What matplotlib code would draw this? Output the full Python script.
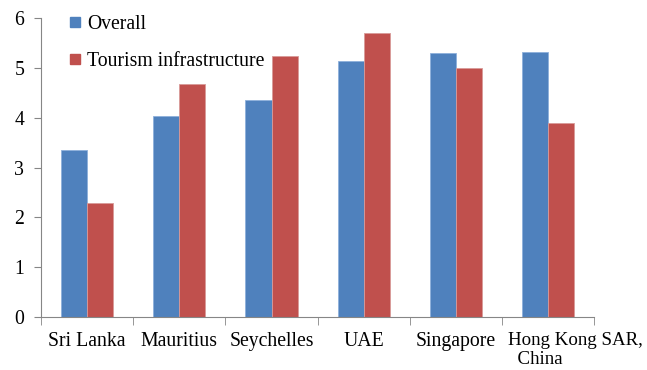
import numpy as np
import matplotlib.pyplot as plt
from matplotlib.lines import Line2D

plt.rcParams['font.family'] = ['Liberation Serif', 'DejaVu Serif']

paises = ['Sri Lanka', 'Mauritius', 'Seychelles', 'UAE', 'Singapore', 'Hong Kong SAR,\n  China']
overall = [3.35, 4.03, 4.35, 5.14, 5.31, 5.32]
infraestructura = [2.28, 4.68, 5.23, 5.70, 5.00, 3.90]

azul = '#4F81BD'
rojo = '#C0504D'
fs = 14.2

fig = plt.figure(figsize=(6.47, 3.70), dpi=100)
ax = fig.add_axes([0.0634, 0.143, 0.855, 0.808])

x = np.arange(len(paises))
ancho = 0.283
ax.bar(x - ancho / 2, overall, ancho, color=azul, edgecolor='#8DB0DB', linewidth=0.6)
ax.bar(x + ancho / 2, infraestructura, ancho, color=rojo, edgecolor='#D89A98', linewidth=0.6)

ax.set_xlim(-0.5, len(paises) - 0.5)
ax.set_ylim(0, 6)
ax.set_yticks(range(0, 7))
ax.set_xticks(x)
# la ultima etiqueta se pone aparte, alineada a la izquierda como en Excel
ax.set_xticklabels(paises[:-1] + [''], fontsize=fs)
ax.annotate(paises[-1], xy=(x[-1] - 0.44, 0), xycoords=('data', 'axes fraction'),
            xytext=(0, -11), textcoords='offset points', ha='left', va='top',
            fontsize=13.6, linespacing=1.1)
ax.set_xticks(np.arange(-0.5, len(paises)), minor=True)
ax.tick_params(axis='x', which='major', length=0, pad=11)
ax.tick_params(axis='x', which='minor', length=6, color='#868686', direction='out')
ax.tick_params(axis='y', length=5, color='#868686', labelsize=fs, pad=7)

for lado in ['top', 'right']:
    ax.spines[lado].set_visible(False)
ax.spines['left'].set_color('#868686')
ax.spines['bottom'].set_color('#868686')

handles = [Line2D([], [], marker='s', linestyle='', color=azul, markersize=7),
           Line2D([], [], marker='s', linestyle='', color=rojo, markersize=7)]
ax.legend(handles, ['Overall', 'Tourism infrastructure'], loc='upper left',
          bbox_to_anchor=(0.019, 1.07), frameon=False, fontsize=fs,
          handlelength=0.6, handletextpad=0.3, labelspacing=0.9)

fig.savefig('out.png', dpi=100)
